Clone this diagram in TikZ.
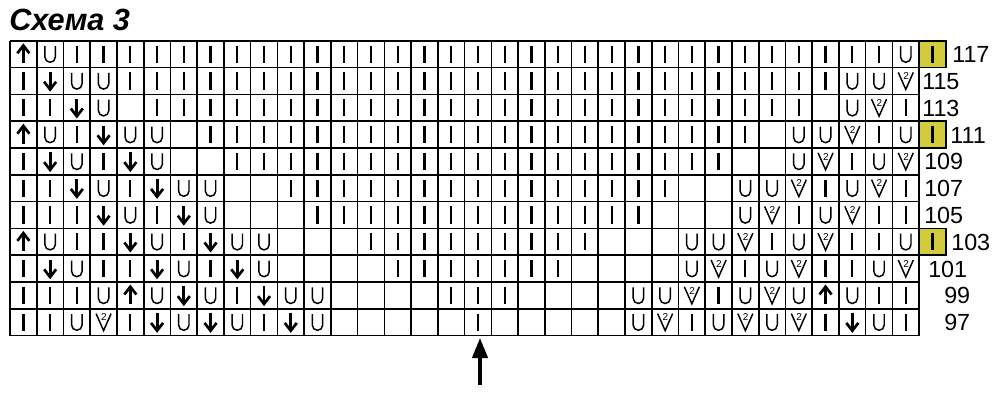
\documentclass[tikz,border=0pt]{standalone}
\usepackage{fontspec}
\setmainfont{Liberation Sans}
\usetikzlibrary{arrows.meta}
\definecolor{yel}{HTML}{D2CB3C}
\tikzset{
  gridline/.style={line width=1.2pt, black},
  stbar/.style={line width=1.7pt, line cap=butt},
  yo/.style={line width=1.1pt, line cap=butt, line join=miter},
  arrstem/.style={line width=2.2pt},
  arrhead/.style={line width=2pt, line join=miter, miter limit=10},
  rowlabel/.style={font=\fontsize{17.5}{18}\selectfont, anchor=base west, inner sep=0pt},
  symi/.pic={\draw[stbar] (0,-8.6) -- (0,8.6);},
  symu/.pic={\draw[yo] (-5.2,-8) -- (-5.2,3) arc[start angle=180,end angle=0,radius=5.2] -- (5.2,-8);},
  symd/.pic={\draw[arrstem] (0,-9) -- (0,7); \draw[arrhead] (-6,0.8) -- (0,8.6) -- (6,0.8);},
  syma/.pic={\draw[arrstem] (0,9) -- (0,-7); \draw[arrhead] (-6,-0.8) -- (0,-8.6) -- (6,-0.8);},
  symv/.pic={\draw[yo] (-7.5,-8.5) -- (0,8.5) -- (7.5,-8.5);
             \node[font=\fontsize{7.5}{8}\selectfont, inner sep=0pt] at (0.3,-4.6) {2};},
  symo/.pic={},
}
\begin{document}
\begin{tikzpicture}[x=0.75pt,y=-0.75pt]
\useasboundingbox (0,0) rectangle (1000,404);
\def\cw{26.74}
\def\ch{26.8}
\def\gx{10}
\def\gy{40.7}
% title
\node[anchor=base west, inner sep=0pt, font=\fontsize{23}{24}\selectfont\bfseries\itshape] (title) at (9,30.5) {Схема 3};
% yellow extra cells
\foreach \r in {1,4,8}{
  \fill[yel] ({\gx+34*\cw},{\gy+(\r-1)*\ch}) rectangle ++(\cw,\ch);
  \draw[gridline] ({\gx+34*\cw},{\gy+(\r-1)*\ch}) rectangle ++(\cw,\ch);
}
% grid
\foreach \k in {0,...,34}{
  \draw[gridline] ({\gx+\k*\cw},\gy) -- ++(0,{11*\ch});
}
\foreach \k in {0,...,11}{
  \draw[gridline] (\gx,{\gy+\k*\ch}) -- ++({34*\cw},0);
}
% symbols
\foreach \row [count=\r] in {%
{a,u,i,i,i,i,i,i,i,i,i,i,i,i,i,i,i,i,i,i,i,i,i,i,i,i,i,i,i,i,i,i,i,u,i},%
{i,d,u,u,i,i,i,i,i,i,i,i,i,i,i,i,i,i,i,i,i,i,i,i,i,i,i,i,i,i,i,u,u,v},%
{i,i,d,u,o,i,i,i,i,i,i,i,i,i,i,i,i,i,i,i,i,i,i,i,i,i,i,i,i,i,o,u,v,i},%
{a,u,i,d,u,u,o,i,i,i,i,i,i,i,i,i,i,i,i,i,i,i,i,i,i,i,i,i,o,u,u,v,i,u,i},%
{i,d,u,i,d,u,o,o,i,i,i,i,i,i,i,i,i,i,i,i,i,i,i,i,i,i,i,o,o,u,v,i,u,v},%
{i,i,d,u,i,d,u,u,o,o,i,i,i,i,i,i,i,i,i,i,i,i,i,i,i,o,o,u,u,v,i,u,v,i},%
{i,i,i,d,u,i,d,u,o,o,o,i,i,i,i,i,i,i,i,i,i,i,i,i,o,o,o,u,v,i,u,v,i,i},%
{a,u,i,i,d,u,i,d,u,u,o,o,o,i,i,i,i,i,i,i,i,i,o,o,o,u,u,v,i,u,v,i,i,u,i},%
{i,d,u,i,i,d,u,i,d,u,o,o,o,o,i,i,i,i,i,i,i,o,o,o,o,u,v,i,u,v,i,i,u,v},%
{i,i,i,u,a,u,d,u,i,d,u,u,o,o,o,o,i,i,i,o,o,o,o,u,u,v,i,u,v,u,a,u,i,i},%
{i,i,u,v,i,d,u,d,u,i,d,u,o,o,o,o,o,i,o,o,o,o,o,u,v,i,u,v,u,v,i,d,u,i}}{%
  \foreach \s [count=\c] in \row {%
    \pic at ({\gx+(\c-0.5)*\cw},{\gy+(\r-0.5)*\ch}) {sym\s};
  }
}
% row labels
\foreach \lab/\lx [count=\r] in {117/952,115/922,113/922,111/950,109/924,107/924,105/924,103/951,101/928,99/944,97/944}{
  \node[rowlabel] (row\lab) at (\lx,{\gy+(\r-0.5)*\ch+8.6}) {\lab};
}
% start arrow
\coordinate (arrtail) at (480,385);
\coordinate (arrtip) at (480,338);
\draw[line width=2.3pt, -{Triangle[width=11.5pt,length=15pt]}] (arrtail) -- (arrtip);
\end{tikzpicture}
\end{document}
